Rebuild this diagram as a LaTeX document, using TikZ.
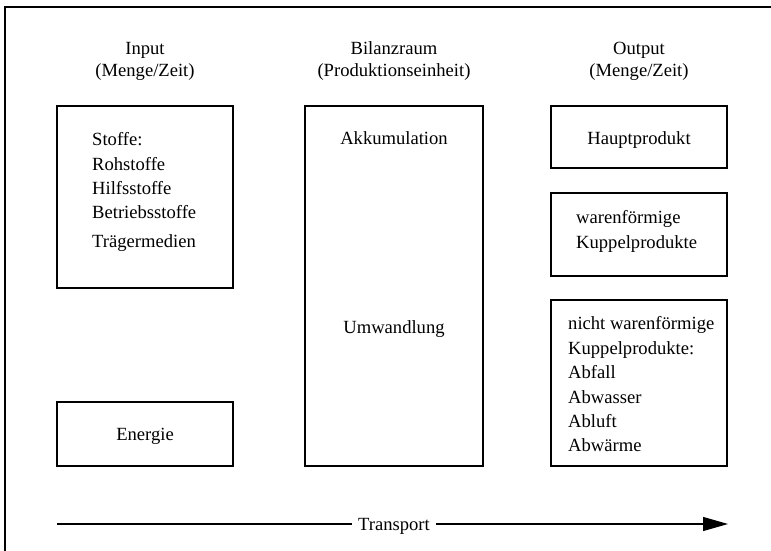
\documentclass[tikz,border=0pt]{standalone}
\usepackage{fontspec}
\setmainfont{Liberation Serif}
\usetikzlibrary{arrows.meta}
\begin{document}
\begin{tikzpicture}[x=1pt,y=-1pt,
  box/.style={draw,line width=1.2pt},
  txt/.style={font=\fontsize{18.6}{24.5}\selectfont,inner sep=0pt},
  lft/.style={txt,anchor=base west},
  ctr/.style={txt,anchor=base}]
\useasboundingbox (0,0) rectangle (771,551);
\draw[line width=1.3pt] (5,560) -- (5,7) -- (780,7);
% headers
\node[ctr] (hin1) at (145,54.5) {Input};
\node[ctr] (hin2) at (145,77) {(Menge/Zeit)};
\node[ctr] (hbi1) at (394,54.5) {Bilanzraum};
\node[ctr] (hbi2) at (394,77) {(Produktionseinheit)};
\node[ctr] (hout1) at (639,54.5) {Output};
\node[ctr] (hout2) at (639,77) {(Menge/Zeit)};
% boxes
\draw[box] (57,106) rectangle (233,288);
\draw[box] (57,402) rectangle (233,466);
\draw[box] (305,106) rectangle (483,466);
\draw[box] (551,106) rectangle (727,168);
\draw[box] (551,193) rectangle (727,276);
\draw[box] (551,300) rectangle (727,466);
% input text
\node[lft] (s1) at (92,145) {Stoffe:};
\node[lft] (s2) at (92,170) {Rohstoffe};
\node[lft] (s3) at (92,194) {Hilfsstoffe};
\node[lft] (s4) at (92,218.5) {Betriebsstoffe};
\node[lft] (s5) at (92,247) {Trägermedien};
\node[ctr] (energie) at (145,440) {Energie};
\node[ctr] (akk) at (394,144.5) {Akkumulation};
\node[ctr] (umw) at (394,333) {Umwandlung};
\node[ctr] (haupt) at (639,144.5) {Hauptprodukt};
\node[lft] (w1) at (576,223) {warenförmige};
\node[lft] (w2) at (576,248) {Kuppelprodukte};
\node[lft] (n1) at (568,329) {nicht warenförmige};
\node[lft] (n2) at (568,354) {Kuppelprodukte:};
\node[lft] (n3) at (568,378) {Abfall};
\node[lft] (n4) at (568,403) {Abwasser};
\node[lft] (n5) at (568,427.5) {Abluft};
\node[lft] (n6) at (568,451) {Abwärme};
% transport
\node[ctr,inner xsep=6pt] (trans) at (394,530) {Transport};
\coordinate (ts) at (57,524);
\coordinate (te) at (728,524);
\draw[line width=1.2pt] (ts) -- (ts -| trans.west);
\draw[line width=1.2pt,-{Triangle[length=25pt,width=14pt]}] (te -| trans.east) -- (te);
\end{tikzpicture}
\end{document}
